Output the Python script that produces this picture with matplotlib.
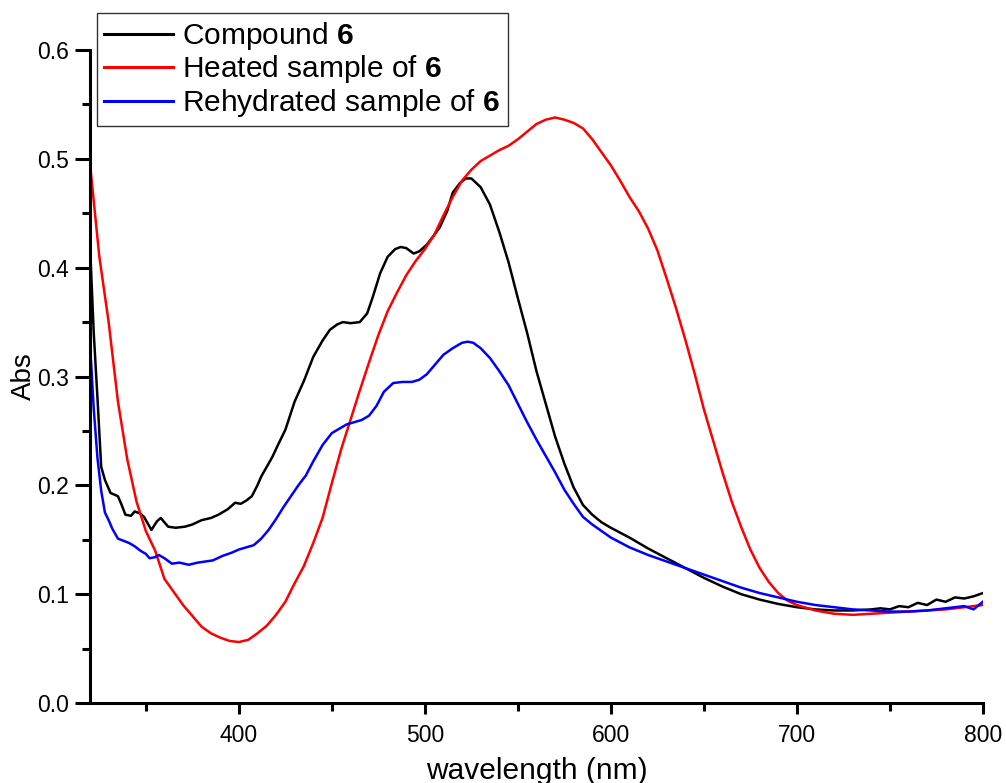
import matplotlib
matplotlib.use("Agg")
import matplotlib.pyplot as plt
from matplotlib.ticker import MultipleLocator, FormatStrFormatter

plt.rcParams['font.family'] = ['Liberation Sans', 'DejaVu Sans']
plt.rcParams['mathtext.fontset'] = 'custom'
plt.rcParams['mathtext.rm'] = 'Liberation Sans'
plt.rcParams['mathtext.bf'] = 'Liberation Sans:bold'

# Compound 6
wl_black = [320, 322, 324, 326, 328, 331, 335, 337, 339, 342,
            344, 347, 349, 351, 353, 356, 358, 360, 362, 366,
            371, 375, 380, 385, 389, 394, 398, 401, 404, 407,
            410, 412, 415, 418, 421, 425, 430, 435, 440, 445,
            449, 453, 456, 460, 465, 469, 472, 476, 480, 484,
            487, 490, 494, 497, 501, 505, 508, 512, 515, 519,
            522, 525, 530, 535, 540, 545, 550, 555, 560, 565,
            570, 575, 580, 585, 590, 595, 600, 610, 620, 630,
            640, 650, 660, 670, 680, 690, 700, 710, 720, 730,
            740, 745, 750, 755, 760, 765, 770, 775, 780, 785,
            790, 795, 800]
abs_black = [0.42, 0.34, 0.28, 0.217, 0.205, 0.193, 0.19, 0.182, 0.173, 0.172,
             0.176, 0.174, 0.171, 0.165, 0.159, 0.167, 0.17, 0.166, 0.162, 0.161,
             0.162, 0.164, 0.168, 0.17, 0.173, 0.178, 0.184, 0.183, 0.186, 0.19,
             0.2, 0.208, 0.217, 0.226, 0.237, 0.251, 0.277, 0.296, 0.318, 0.333,
             0.343, 0.348, 0.35, 0.349, 0.35, 0.358, 0.373, 0.395, 0.41, 0.417,
             0.419, 0.418, 0.413, 0.415, 0.421, 0.43, 0.437, 0.452, 0.469, 0.478,
             0.482, 0.482, 0.474, 0.458, 0.433, 0.405, 0.372, 0.34, 0.305, 0.275,
             0.245, 0.22, 0.198, 0.182, 0.173, 0.166, 0.161, 0.152, 0.142, 0.133,
             0.124, 0.115, 0.107, 0.1, 0.095, 0.091, 0.088, 0.086, 0.085, 0.085,
             0.086, 0.087, 0.086, 0.089, 0.088, 0.092, 0.09, 0.095, 0.093, 0.097,
             0.096, 0.098, 0.101]

# Heated sample of 6
wl_red = [320, 325, 330, 335, 340, 345, 350, 355, 360, 365,
          370, 375, 380, 385, 390, 395, 400, 405, 410, 415,
          420, 425, 430, 435, 440, 445, 450, 455, 460, 465,
          470, 475, 480, 485, 490, 495, 500, 505, 510, 515,
          520, 525, 530, 535, 540, 545, 550, 555, 560, 565,
          570, 575, 580, 585, 590, 595, 600, 605, 610, 615,
          620, 625, 630, 635, 640, 645, 650, 655, 660, 665,
          670, 675, 680, 685, 690, 695,
          700, 710, 720, 730, 740, 750, 760, 770, 780, 790, 800]
abs_red = [0.495, 0.41, 0.35, 0.277, 0.224, 0.185, 0.158, 0.14, 0.114, 0.102,
           0.09, 0.08, 0.07, 0.064, 0.06, 0.057, 0.056, 0.058, 0.064, 0.071,
           0.081, 0.093, 0.11, 0.126, 0.147, 0.17, 0.202, 0.233, 0.26, 0.287,
           0.313, 0.338, 0.36, 0.377, 0.393, 0.406, 0.417, 0.43, 0.448, 0.465,
           0.48, 0.49, 0.498, 0.503, 0.508, 0.512, 0.518, 0.525, 0.532, 0.536,
           0.538, 0.536, 0.533, 0.528, 0.518, 0.506, 0.494, 0.48, 0.465, 0.452,
           0.436, 0.416, 0.39, 0.363, 0.334, 0.303, 0.27, 0.241, 0.212, 0.185,
           0.162, 0.141, 0.124, 0.111, 0.101, 0.094,
           0.09, 0.085, 0.082, 0.081, 0.082, 0.083, 0.084, 0.085, 0.086, 0.088, 0.09]

# Rehydrated sample of 6
wl_blue = [320, 322, 324, 326, 328, 330, 332, 335, 338, 341,
           344, 347, 350, 352, 355, 357, 360, 364, 368, 373,
           378, 382, 386, 391, 396, 400, 404, 408, 412, 416,
           420, 424, 428, 432, 436, 440, 445, 450, 454, 458,
           462, 466, 470, 474, 478, 483, 488, 493, 497, 501,
           505, 510, 515, 520, 523, 526, 530, 535, 540, 545,
           550, 555, 560, 565, 570, 575, 580, 585, 590, 595,
           600, 610, 620, 630, 640, 650, 660, 670, 680, 690,
           700, 710, 720, 730, 740, 750, 760, 770, 780, 790,
           795, 800]
abs_blue = [0.33, 0.27, 0.225, 0.195, 0.175, 0.168, 0.16, 0.151, 0.149, 0.147,
            0.144, 0.14, 0.137, 0.133, 0.134, 0.136, 0.133, 0.128, 0.129, 0.127,
            0.129, 0.13, 0.131, 0.135, 0.138, 0.141, 0.143, 0.145, 0.151, 0.159,
            0.169, 0.18, 0.19, 0.2, 0.209, 0.222, 0.237, 0.248, 0.252, 0.256,
            0.258, 0.26, 0.264, 0.273, 0.286, 0.294, 0.295, 0.295, 0.297, 0.302,
            0.31, 0.32, 0.326, 0.331, 0.332, 0.331, 0.326, 0.317, 0.305, 0.292,
            0.275, 0.258, 0.242, 0.227, 0.212, 0.196, 0.183, 0.171, 0.164, 0.158,
            0.152, 0.143, 0.136, 0.13, 0.124, 0.118, 0.112, 0.106, 0.101, 0.097,
            0.093, 0.09, 0.088, 0.086, 0.085, 0.084, 0.084, 0.085, 0.087, 0.089,
            0.086, 0.093]

labels = ["Compound $\\mathbf{6}$", "Heated sample of $\\mathbf{6}$",
          "Rehydrated sample of $\\mathbf{6}$"]
colors = ["#000000", "#ff0000", "#0000ff"]

fig = plt.figure(figsize=(10.06, 7.83), dpi=100)
ax = fig.add_axes([0.0895, 0.1022, 0.8875, 0.8339])

ax.plot(wl_black, abs_black, color=colors[0], lw=1.8, label=labels[0])
ax.plot(wl_red, abs_red, color=colors[1], lw=1.8, label=labels[1])
ax.plot(wl_blue, abs_blue, color=colors[2], lw=1.8, label=labels[2])

ax.set_xlim(320, 800)
ax.set_ylim(0, 0.6)
ax.xaxis.set_major_locator(MultipleLocator(100))
ax.xaxis.set_minor_locator(MultipleLocator(50))
ax.yaxis.set_major_locator(MultipleLocator(0.1))
ax.yaxis.set_minor_locator(MultipleLocator(0.05))
ax.yaxis.set_major_formatter(FormatStrFormatter('%.1f'))

for s in ['top', 'right']:
    ax.spines[s].set_visible(False)
for s in ['left', 'bottom']:
    ax.spines[s].set_linewidth(2.2)
ax.tick_params(axis='x', which='major', direction='out', length=8, width=2.2,
               labelsize=16.5, pad=7)
ax.tick_params(axis='y', which='major', direction='out', length=11, width=2.2,
               labelsize=16.5, pad=4)
ax.tick_params(which='minor', direction='out', length=6, width=2.2)

ax.set_xlabel("wavelength (nm)", fontsize=21.5, labelpad=7)
ax.set_ylabel("Abs", fontsize=20, labelpad=0)

leg = fig.legend(loc='upper left', bbox_to_anchor=(0.0964, 0.984), fontsize=21.5,
                 frameon=True, fancybox=False, handlelength=2.3, handletextpad=0.3,
                 borderpad=0.25, labelspacing=0.05, borderaxespad=0)
leg.get_frame().set_edgecolor('black')
leg.get_frame().set_linewidth(1.0)
for line in leg.get_lines():
    line.set_linewidth(2.2)

fig.savefig("out.png", dpi=100)
